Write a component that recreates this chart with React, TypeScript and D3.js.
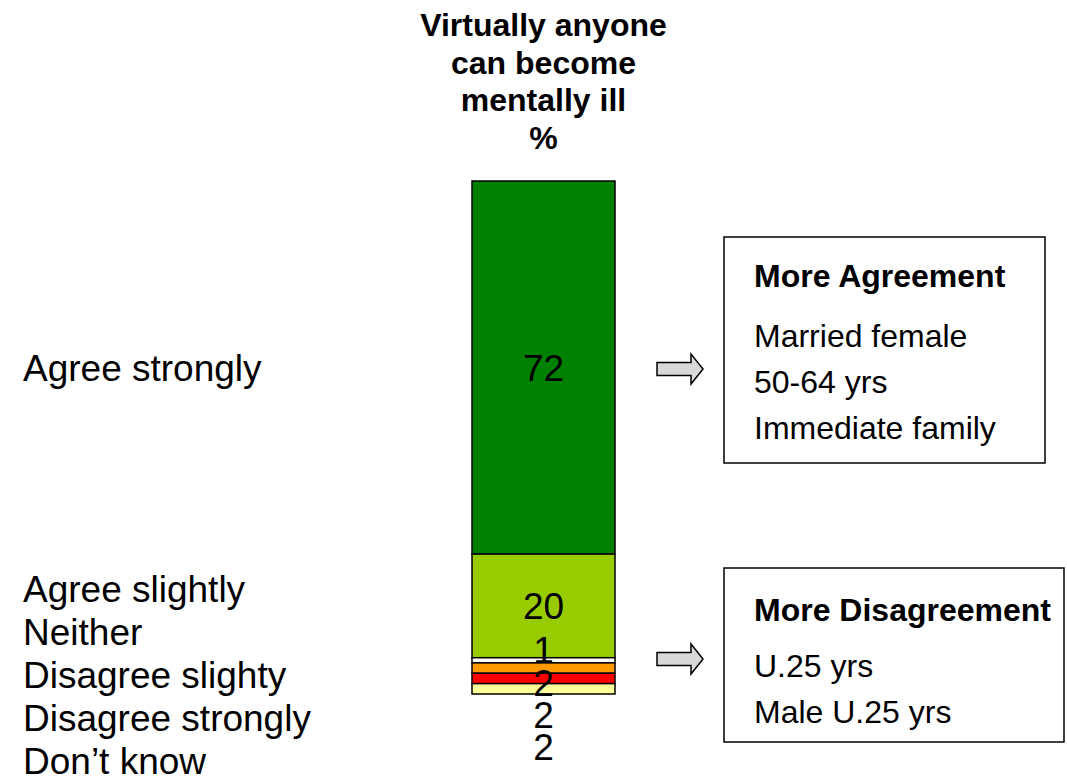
import React from "react";
import * as d3 from "d3";

const categories = ["Agree strongly", "Agree slightly", "Neither", "Disagree slighty", "Disagree strongly", "Don\u2019t know"];
const values = [72, 20, 1, 2, 2, 2];
const colors = ["#008000", "#99CC00", "#FFFFFF", "#FF9900", "#FF0000", "#FFFF99"];
const titleLines = ["Virtually anyone", "can become", "mentally ill", "%"];
const agreeTitle = "More Agreement";
const agreeItems = ["Married female", "50-64 yrs", "Immediate family"];
const disagreeTitle = "More Disagreement";
const disagreeItems = ["U.25 yrs", "Male U.25 yrs"];

const W = 1067;
const H = 784;
const FONT = "'Liberation Sans', Arial, Helvetica, sans-serif";

export default function App() {
  const total = d3.sum(values);
  const barTop = 181;
  const barBottom = 694;
  const barLeft = 472;
  const barRight = 615;
  const y = d3.scaleLinear().domain([0, total]).range([barTop, barBottom]);
  const cum = d3.cumsum(values);
  const segs = values.map((v, i) => ({
    v,
    i,
    y0: y(cum[i] - v),
    y1: y(cum[i]),
    color: colors[i],
    label: categories[i],
  }));
  const cx = (barLeft + barRight) / 2;
  const big = segs.filter((s) => s.v >= 10);
  const small = segs.filter((s) => s.v < 10);
  const smallStart = segs[1].y1 + 5.5;
  const smallStep = 32.3;

  const leftLabelStep = 43;
  const leftStartSmall = 602;

  const arrow = (x: number, yc: number) => {
    const p = d3.path();
    p.moveTo(x, yc - 6.5);
    p.lineTo(x + 34, yc - 6.5);
    p.lineTo(x + 34, yc - 15);
    p.lineTo(x + 46, yc);
    p.lineTo(x + 34, yc + 15);
    p.lineTo(x + 34, yc + 6.5);
    p.lineTo(x, yc + 6.5);
    p.closePath();
    return p.toString();
  };

  return (
    <svg
      width={W}
      height={H}
      style={{ position: "absolute", left: 0, top: 0, background: "#fff" }}
      fontFamily={FONT}
    >
      {titleLines.map((t, i) => (
        <text key={t} x={cx} y={36 + i * 37.7} textAnchor="middle" fontSize={32} fontWeight="bold" fill="#000">
          {t}
        </text>
      ))}

      {segs.map((s) => (
        <rect
          key={s.label}
          x={barLeft}
          y={s.y0}
          width={barRight - barLeft}
          height={s.y1 - s.y0}
          fill={s.color}
          stroke="#000"
          strokeWidth={1.5}
        />
      ))}

      {big.map((s) => (
        <text key={"v" + s.i} x={cx} y={(s.y0 + s.y1) / 2 + 13} textAnchor="middle" fontSize={37} fill="#000">
          {s.v}
        </text>
      ))}
      {small.map((s, k) => (
        <text key={"v" + s.i} x={cx} y={smallStart + k * smallStep} textAnchor="middle" fontSize={37} fill="#000">
          {s.v}
        </text>
      ))}

      {segs.map((s, i) => (
        <text
          key={"l" + i}
          x={23}
          y={i === 0 ? (s.y0 + s.y1) / 2 + 13 : leftStartSmall + (i - 1) * leftLabelStep}
          fontSize={37}
          fill="#000"
        >
          {s.label}
        </text>
      ))}

      <path d={arrow(657, (segs[0].y0 + segs[0].y1) / 2 + 1.5)} fill="#D9D9D9" stroke="#000" strokeWidth={1.5} />
      <path d={arrow(657, 659)} fill="#D9D9D9" stroke="#000" strokeWidth={1.5} />

      <rect x={724} y={237} width={321} height={226} fill="#fff" stroke="#000" strokeWidth={1.5} />
      <text x={754} y={287} fontSize={32} fontWeight="bold" fill="#000">{agreeTitle}</text>
      {agreeItems.map((t, i) => (
        <text key={t} x={754} y={347 + i * 46} fontSize={32} fill="#000">{t}</text>
      ))}

      <rect x={724} y={568} width={340} height={174} fill="#fff" stroke="#000" strokeWidth={1.5} />
      <text x={754} y={621} fontSize={32} fontWeight="bold" fill="#000">{disagreeTitle}</text>
      {disagreeItems.map((t, i) => (
        <text key={t} x={754} y={677 + i * 46} fontSize={32} fill="#000">{t}</text>
      ))}
    </svg>
  );
}
